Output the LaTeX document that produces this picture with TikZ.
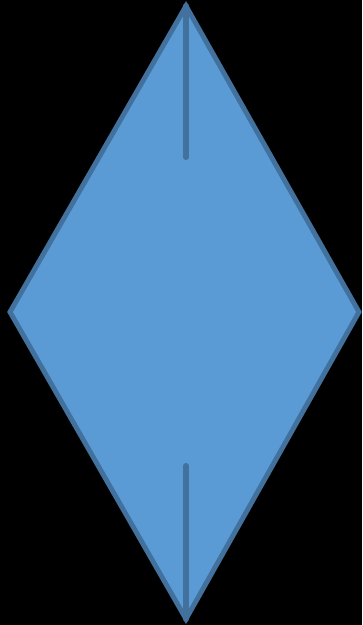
\documentclass[tikz,border=0pt]{standalone}
\usetikzlibrary{calc}
\definecolor{rhombfill}{HTML}{5B9BD5}
\definecolor{rhombline}{HTML}{41719C}
\begin{document}
\begin{tikzpicture}[
      x=0.02cm, y=-0.02cm,
      edge/.style={draw=rhombline, line width=2.8pt},
      tick/.style={draw=rhombline, line width=3.4pt, line cap=round},
    ]
    % Background
    \fill[black] (0,0) rectangle (362,625);
    \useasboundingbox (0,0) rectangle (362,625);

    % Corners
    \coordinate (top) at (186,6);
    \coordinate (right) at (359,312);
    \coordinate (bottom) at (186,619);
    \coordinate (left) at (10,312);
    \coordinate (uptick) at (186,157);
    \coordinate (lowtick) at (186,466);

    % Diamond
    \filldraw[edge, fill=rhombfill, line join=miter] (top) -- (right) -- (bottom) -- (left) -- cycle;

    % Inner lines
    \draw[tick] (top) -- (uptick);
    \draw[tick] (bottom) -- (lowtick);
  \end{tikzpicture}
\end{document}
